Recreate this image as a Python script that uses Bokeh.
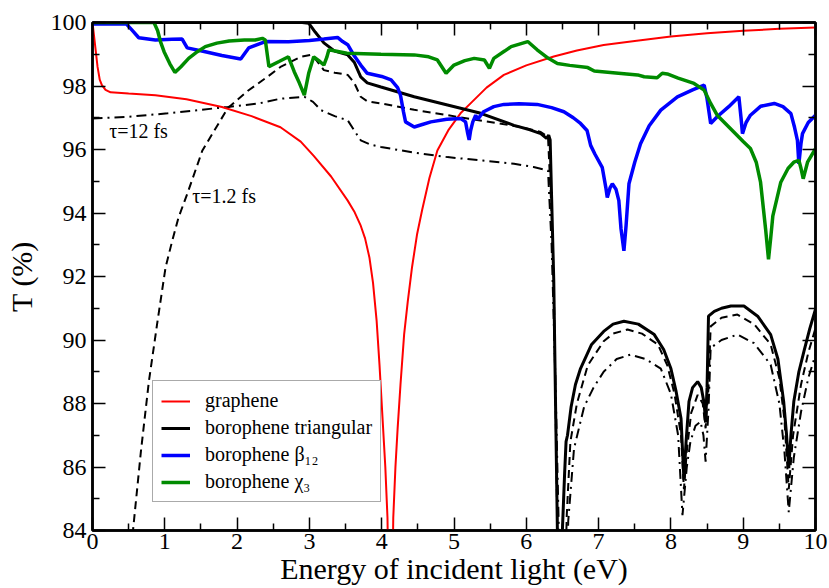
import numpy as np
from bokeh.plotting import figure
from bokeh.models import (ColumnDataSource, LinearAxis, FixedTicker, CustomJSTickFormatter,
                          Legend, LegendItem, Label, Range1d)
from bokeh.core.properties import value
from bokeh.embed import file_html
from bokeh.resources import INLINE

# ---------------- data ----------------
graphene_x = [0, 0.02, 0.04, 0.07, 0.1, 0.13, 0.18, 0.25, 0.5, 0.87, 1.3, 1.79, 2.2, 2.6, 2.88,
              3.06, 3.3, 3.53, 3.62, 3.71, 3.77, 3.83, 3.88, 3.93, 3.97, 4.01, 4.05, 4.08, 4.12,
              4.16, 4.19, 4.22, 4.26, 4.31, 4.36, 4.42, 4.49, 4.56, 4.66, 4.77, 4.92, 5.09, 5.25,
              5.45, 5.69, 6.0, 6.38, 6.7, 7.07, 7.5, 8.0, 8.5, 9.0, 9.5, 10]
graphene_y = [100, 99.6, 99.2, 98.6, 98.2, 98.03, 97.88, 97.8, 97.76, 97.71, 97.58, 97.34, 97.05,
              96.7, 96.25, 95.8, 95.15, 94.39, 94.05, 93.6, 93.2, 92.6, 91.8, 90.6, 89.2, 87.6,
              86.0, 84.4, 78.0, 84.4, 86.0, 87.2, 88.6, 90.17, 91.2, 92.3, 93.34, 94.1, 95.1,
              95.97, 96.6, 97.14, 97.5, 97.95, 98.35, 98.65, 98.93, 99.12, 99.29, 99.42, 99.56,
              99.66, 99.74, 99.8, 99.84]

tri_x = [0, 1, 2, 2.9, 2.99, 3.08, 3.2, 3.35, 3.53, 3.62, 3.71, 3.8, 3.99, 4.45, 4.91, 5.37, 5.83,
         6.05, 6.2, 6.28, 6.31, 6.33, 6.35, 6.38, 6.43, 6.46, 6.49, 6.5, 6.53, 6.55, 6.57, 6.62,
         6.68, 6.75, 6.9, 7.07, 7.2, 7.35, 7.55, 7.77, 7.9, 8.0, 8.07, 8.14, 8.18, 8.21, 8.25,
         8.3, 8.37, 8.42, 8.46, 8.48, 8.5, 8.52, 8.6, 8.7, 8.83, 9.01, 9.2, 9.38, 9.48, 9.56,
         9.6, 9.63, 9.66, 9.7, 9.77, 9.84, 9.92, 10]
tri_y = [100, 100, 100, 100, 99.98, 99.7, 99.36, 99.1, 98.98, 98.75, 98.29, 98.1, 97.97, 97.66,
         97.4, 97.14, 96.76, 96.62, 96.5, 96.35, 96.45, 96.3, 94.5, 91.85, 84.0, 80.0, 80.0,
         84.05, 85.8, 86.8, 87.0, 87.9, 88.6, 89.1, 89.85, 90.27, 90.5, 90.59, 90.5, 90.17, 89.7,
         89.1, 88.4, 87.53, 85.6, 86.8, 88.06, 88.5, 88.69, 88.5, 88.0, 87.4, 88.5, 90.75, 90.9,
         91.0, 91.07, 91.07, 90.75, 90.17, 89.4, 88.06, 87.0, 85.96, 87.0, 88.06, 89.0, 89.64,
         90.35, 90.97]

tau12_x = [0.45, 0.56, 0.67, 0.78, 0.9, 1.01, 1.1, 1.19, 1.31, 1.52, 1.87, 2.15, 2.42, 2.6, 2.88,
           3.02, 3.1, 3.2, 3.35, 3.53, 3.62, 3.71, 3.8, 3.99, 4.45, 4.91, 5.4, 5.92, 6.2, 6.3,
           6.35, 6.38, 6.43, 6.47, 6.51, 6.56, 6.61, 6.7, 6.85, 7.07, 7.2, 7.4, 7.6, 7.82, 7.95,
           8.05, 8.14, 8.18, 8.22, 8.28, 8.37, 8.44, 8.48, 8.52, 8.55, 8.7, 8.92, 9.15, 9.38,
           9.5, 9.57, 9.63, 9.69, 9.8, 9.9, 10]
tau12_y = [81.0, 84.0, 86.5, 88.7, 90.6, 92.28, 93.1, 93.86, 94.6, 95.97, 97.3, 97.85, 98.29,
           98.6, 98.92, 98.98, 98.8, 98.5, 98.42, 98.35, 98.1, 97.66, 97.52, 97.45, 97.25,
           97.08, 96.9, 96.71, 96.55, 96.4, 94.0, 91.8, 84.0, 80.0, 80.0, 84.5, 86.8, 88.0,
           89.2, 89.96, 90.2, 90.33, 90.2, 89.86, 89.2, 88.3, 87.0, 85.3, 86.5, 87.7, 88.27,
           88.0, 87.22, 88.5, 90.43, 90.7, 90.8, 90.5, 89.86, 88.8, 87.5, 85.3, 87.0, 88.6,
           89.6, 90.37]

tau120_x = [0, 0.5, 1.04, 1.5, 1.87, 2.3, 2.6, 2.93, 3.05, 3.16, 3.35, 3.53, 3.62, 3.71, 3.85,
            3.99, 4.45, 4.91, 5.4, 5.83, 6.1, 6.3, 6.35, 6.4, 6.45, 6.48, 6.53, 6.58, 6.66, 6.8,
            6.93, 7.07, 7.25, 7.44, 7.65, 7.86, 8.0, 8.1, 8.16, 8.22, 8.27, 8.34, 8.41, 8.45,
            8.48, 8.52, 8.55, 8.7, 8.92, 9.15, 9.38, 9.5, 9.57, 9.63, 9.7, 9.8, 9.9, 10]
tau120_y = [96.98, 97.03, 97.14, 97.25, 97.34, 97.45, 97.6, 97.66, 97.5, 97.24, 97.05, 96.92,
            96.6, 96.29, 96.15, 96.08, 95.9, 95.76, 95.65, 95.55, 95.45, 95.34, 93.0, 89.0, 84.0,
            80.0, 80.0, 84.3, 86.58, 87.9, 88.5, 89.0, 89.4, 89.54, 89.4, 89.1, 88.3, 87.0,
            84.48, 86.0, 86.8, 87.3, 87.43, 87.0, 86.17, 87.8, 89.75, 90.0, 90.17, 89.9, 89.22,
            88.0, 86.5, 84.58, 86.3, 87.74, 88.8, 89.54]

beta12_x = [0, 0.47, 0.55, 0.64, 0.87, 1.1, 1.24, 1.31, 1.56, 1.79, 2.05, 2.16, 2.39, 2.71, 3.0,
            3.2, 3.39, 3.46, 3.53, 3.62, 3.71, 3.8, 4.0, 4.13, 4.22, 4.26, 4.3, 4.33, 4.45, 4.55,
            4.68, 4.9, 5.09, 5.16, 5.19, 5.21, 5.23, 5.26, 5.3, 5.33, 5.36, 5.41, 5.55, 5.69,
            5.9, 6.15, 6.35, 6.52, 6.65, 6.75, 6.84, 6.89, 6.95, 7.05, 7.1, 7.12, 7.16, 7.19,
            7.24, 7.28, 7.31, 7.35, 7.38, 7.42, 7.5, 7.58, 7.7, 7.86, 8.09, 8.3, 8.46, 8.5, 8.55,
            8.64, 8.8, 8.94, 8.97, 8.99, 9.04, 9.1, 9.24, 9.43, 9.55, 9.66, 9.71, 9.75, 9.77,
            9.8, 9.82, 9.9, 10]
beta12_y = [99.95, 99.95, 99.75, 99.52, 99.45, 99.47, 99.48, 99.2, 99.08, 98.96, 98.85, 99.2,
            99.4, 99.39, 99.43, 99.48, 99.53, 99.4, 99.3, 98.95, 98.66, 98.4, 98.3, 98.19, 97.95,
            97.71, 97.2, 96.87, 96.71, 96.78, 96.87, 96.95, 96.98, 96.87, 96.5, 96.3, 96.6,
            96.87, 97.08, 96.95, 97.05, 97.19, 97.35, 97.42, 97.44, 97.42, 97.32, 97.19, 97.0,
            96.82, 96.6, 96.13, 95.85, 95.44, 94.8, 94.49, 94.8, 94.92, 94.75, 94.39, 93.5,
            92.81, 93.6, 94.92, 95.6, 96.18, 96.75, 97.24, 97.66, 97.88, 98.03, 97.6, 96.82,
            97.03, 97.35, 97.66, 97.0, 96.5, 96.85, 97.08, 97.36, 97.45, 97.35, 97.13, 96.7,
            96.29, 95.55, 96.2, 96.5, 96.85, 97.08]

chi3_x = [0, 0.85, 0.9, 0.94, 0.99, 1.07, 1.14, 1.22, 1.33, 1.45, 1.56, 1.72, 1.89, 2.1, 2.25,
          2.35, 2.39, 2.44, 2.58, 2.71, 2.79, 2.86, 2.93, 2.99, 3.06, 3.13, 3.2, 3.24, 3.27,
          3.52, 3.99, 4.45, 4.65, 4.77, 4.89, 5.0, 5.15, 5.28, 5.42, 5.49, 5.55, 5.7, 5.79,
          6.02, 6.15, 6.3, 6.43, 6.6, 6.85, 6.94, 7.2, 7.54, 7.63, 7.81, 7.88, 7.95, 8.1, 8.32,
          8.46, 8.55, 8.64, 8.87, 9.0, 9.1, 9.18, 9.24, 9.31, 9.35, 9.38, 9.41, 9.52, 9.62,
          9.7, 9.77, 9.8, 9.83, 9.89, 10]
chi3_y = [100, 100, 99.75, 99.4, 99.08, 98.7, 98.43, 98.6, 98.87, 99.08, 99.24, 99.35, 99.42,
          99.45, 99.45, 99.5, 99.45, 98.61, 98.77, 98.92, 98.45, 98.1, 97.71, 98.4, 98.92, 98.8,
          98.66, 98.9, 99.14, 99.03, 99.0, 98.98, 98.92, 98.82, 98.4, 98.66, 98.8, 98.87, 98.82,
          98.56, 98.87, 99.1, 99.24, 99.4, 99.14, 98.88, 98.71, 98.65, 98.58, 98.47, 98.42,
          98.35, 98.29, 98.26, 98.4, 98.38, 98.25, 98.08, 97.87, 97.45, 97.08, 96.55, 96.25,
          96.03, 95.6, 94.97, 93.49, 92.54, 93.2, 93.91, 94.97, 95.4, 95.6, 95.66, 95.4, 95.08,
          95.6, 96.03]

x_ticks = [0, 1, 2, 3, 4, 5, 6, 7, 8, 9, 10]
y_ticks = [84, 86, 88, 90, 92, 94, 96, 98, 100]
legend_labels = ["graphene", "borophene triangular", "borophene β₁₂", "borophene χ₃"]
annotation_texts = ["τ=12 fs", "τ=1.2 fs"]

# ---------------- figure ----------------
FONT = "Liberation Serif"
p = figure(width=829, height=588, output_backend="svg", toolbar_location=None,
           x_range=Range1d(0, 10), y_range=Range1d(84, 100),
           min_border_left=92, min_border_right=14, min_border_top=22, min_border_bottom=58,
           x_axis_label="Energy of incident light (eV)", y_axis_label="T (%)")
p.background_fill_color = "white"
p.border_fill_color = "white"
p.grid.visible = False
p.outline_line_color = "black"
p.outline_line_width = 2.5

xt = FixedTicker(ticks=x_ticks, minor_ticks=[v + 0.5 for v in x_ticks[:-1]])
yt = FixedTicker(ticks=y_ticks, minor_ticks=[v + 1 for v in y_ticks[:-1]])

def style_axis(ax, ticker):
    ax.ticker = ticker
    ax.axis_line_width = 2.5
    ax.axis_line_color = "black"
    ax.major_tick_in = 13
    ax.major_tick_out = 0
    ax.minor_tick_in = 7
    ax.minor_tick_out = 0
    ax.major_tick_line_width = 1.5
    ax.minor_tick_line_width = 1.5
    ax.major_label_text_font = FONT
    ax.major_label_text_font_size = "24px"
    ax.major_label_text_color = "black"
    ax.axis_label_text_font = FONT
    ax.axis_label_text_font_size = "30px"
    ax.axis_label_text_font_style = "normal"
    ax.axis_label_text_color = "black"

style_axis(p.xaxis[0], xt)
style_axis(p.yaxis[0], yt)
p.xaxis[0].major_label_standoff = 3
p.xaxis[0].axis_label_standoff = 0
p.yaxis[0].major_label_standoff = 6
p.yaxis[0].axis_label_standoff = 10

blank = CustomJSTickFormatter(code="return ''")
top = LinearAxis()
right = LinearAxis()
for ax, t in ((top, xt), (right, yt)):
    style_axis(ax, t)
    ax.formatter = blank
    ax.major_label_standoff = 0
    ax.major_label_text_font_size = "0px"
p.add_layout(top, "above")
p.add_layout(right, "right")

# ---------------- curves ----------------
dash_src = ColumnDataSource(dict(x=tau12_x, y=tau12_y))
dd_src = ColumnDataSource(dict(x=tau120_x, y=tau120_y))
p.line("x", "y", source=dash_src, line_color="black", line_width=2, line_dash="8 5")
p.line("x", "y", source=dd_src, line_color="black", line_width=2, line_dash="10 5 2 5")

r_gr = p.line(graphene_x, graphene_y, line_color="#ff0000", line_width=2)
r_tri = p.line(tri_x, tri_y, line_color="black", line_width=3)
r_beta = p.line(beta12_x, beta12_y, line_color="#0000ff", line_width=3.5)
r_chi = p.line(chi3_x, chi3_y, line_color="#008b00", line_width=3.5)

# ---------------- legend ----------------
legend = Legend(items=[LegendItem(label=legend_labels[0], renderers=[r_gr]),
                       LegendItem(label=legend_labels[1], renderers=[r_tri]),
                       LegendItem(label=legend_labels[2], renderers=[r_beta]),
                       LegendItem(label=legend_labels[3], renderers=[r_chi])],
                location=(60, 28))
legend.label_text_font = FONT
legend.label_text_font_size = "20px"
legend.label_text_color = "black"
legend.glyph_width = 29
legend.glyph_height = 22
legend.label_height = 22
legend.label_standoff = 15
legend.padding = 8
legend.spacing = 4
legend.margin = 0
legend.border_line_color = "#555555"
legend.border_line_width = 1.2
legend.background_fill_color = "white"
legend.background_fill_alpha = 1
p.add_layout(legend)

# ---------------- annotations ----------------
for txt, ax_, ay_ in ((annotation_texts[0], 0.23, 96.57), (annotation_texts[1], 1.38, 94.52)):
    p.add_layout(Label(x=ax_, y=ay_, text=txt, text_font=FONT, text_font_size="20px",
                       text_color="black", text_baseline="middle", text_align="left"))

open("out.html", "w").write(file_html(p, INLINE))
